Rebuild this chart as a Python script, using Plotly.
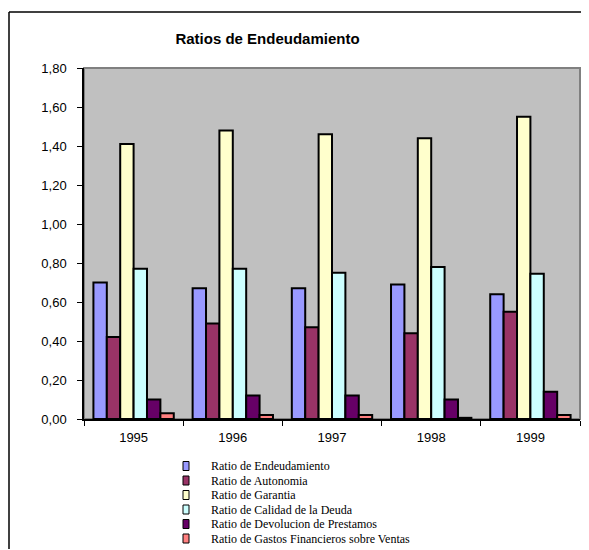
import plotly.graph_objects as go

years = ["1995", "1996", "1997", "1998", "1999"]
series_names = [
    "Ratio de Endeudamiento",
    "Ratio de Autonomia",
    "Ratio de Garantia",
    "Ratio de Calidad de la Deuda",
    "Ratio de Devolucion de Prestamos",
    "Ratio de Gastos Financieros sobre Ventas",
]
endeudamiento = [0.70, 0.67, 0.67, 0.69, 0.64]
autonomia = [0.42, 0.49, 0.47, 0.44, 0.55]
garantia = [1.41, 1.48, 1.46, 1.44, 1.55]
calidad = [0.77, 0.77, 0.75, 0.78, 0.745]
devolucion = [0.10, 0.12, 0.12, 0.10, 0.14]
gastos = [0.03, 0.02, 0.02, 0.006, 0.02]
series_values = [endeudamiento, autonomia, garantia, calidad, devolucion, gastos]
colors = ["#9999FF", "#993366", "#FFFFCC", "#CCFFFF", "#660066", "#FF8080"]
y_ticks = [0.0, 0.2, 0.4, 0.6, 0.8, 1.0, 1.2, 1.4, 1.6, 1.8]

OFF = 8  # page body margin
SW, SH = 589, 550
W, H = SW - OFF, SH - OFF
# plot area in screen pixels: x 84..580, y 68..419
ML = 84 - OFF
MT = 68 - OFF
MR = SW - 580
MB = SH - 419
PW, PH = W - ML - MR, H - MT - MB


def px_x(px):
    return (px - OFF - ML) / PW


def px_y(py):
    return (H - MB - (py - OFF)) / PH


fig = go.Figure()
for name, vals, col in zip(series_names, series_values, colors):
    fig.add_trace(go.Bar(
        x=years, y=vals, name=name, showlegend=False,
        marker=dict(color=col, line=dict(color="black", width=2)),
    ))

shapes = []
annotations = []
# manual legend (compact rows like the original)
row0, row_step = 466, 14.5
for i, (name, col) in enumerate(zip(series_names, colors)):
    cy = row0 + i * row_step
    shapes.append(dict(type="rect", xref="paper", yref="paper",
                       x0=px_x(183), x1=px_x(189), y0=px_y(cy + 4.5), y1=px_y(cy - 4.5),
                       fillcolor=col, line=dict(color="black", width=1)))
    annotations.append(dict(xref="paper", yref="paper", x=px_x(209), y=px_y(cy),
                            xanchor="left", yanchor="middle", showarrow=False,
                            text=name, font=dict(family="Liberation Serif", size=12, color="black")))

# plot area grey border
shapes.append(dict(type="rect", xref="x domain", yref="y domain", x0=0, x1=1, y0=0, y1=1,
                   line=dict(color="#808080", width=2), layer="below"))
# outer chart frame: left and top edges, kept inside the figure
shapes.append(dict(type="line", xref="paper", yref="paper",
                   x0=px_x(9), x1=px_x(9), y0=px_y(549), y1=px_y(12),
                   line=dict(color="black", width=1.5), layer="below"))
shapes.append(dict(type="line", xref="paper", yref="paper",
                   x0=px_x(9), x1=px_x(588), y0=px_y(12), y1=px_y(12),
                   line=dict(color="black", width=1.5), layer="below"))

fig.update_layout(
    width=W, height=H,
    margin=dict(l=ML, r=MR, t=MT, b=MB),
    paper_bgcolor="white", plot_bgcolor="#C0C0C0",
    separators=",.",
    barmode="group", bargap=0.19, bargroupgap=0,
    title=dict(text="<b>Ratios de Endeudamiento</b>", xref="paper", x=px_x(267.5),
               xanchor="center", yref="container", y=1 - (39 - OFF) / H, yanchor="middle",
               font=dict(family="Liberation Sans", size=15, color="black")),
    font=dict(family="Liberation Sans", color="black"),
    shapes=shapes, annotations=annotations,
    xaxis=dict(type="category", showline=True, linecolor="black", linewidth=1.5,
               ticks="outside", tickson="boundaries", ticklen=5, tickcolor="black",
               tickfont=dict(size=13, color="black"), showgrid=False,
               ticklabelstandoff=6),
    yaxis=dict(range=[0, 1.8], tickvals=y_ticks, tickformat=".2f", showline=True,
               linecolor="black", linewidth=1.5, ticks="outside", ticklen=5,
               tickcolor="black", showgrid=False, zeroline=False,
               tickfont=dict(size=13, color="black"), ticklabelstandoff=8),
)

fig.write_html("out.html", config={"displayModeBar": False})
